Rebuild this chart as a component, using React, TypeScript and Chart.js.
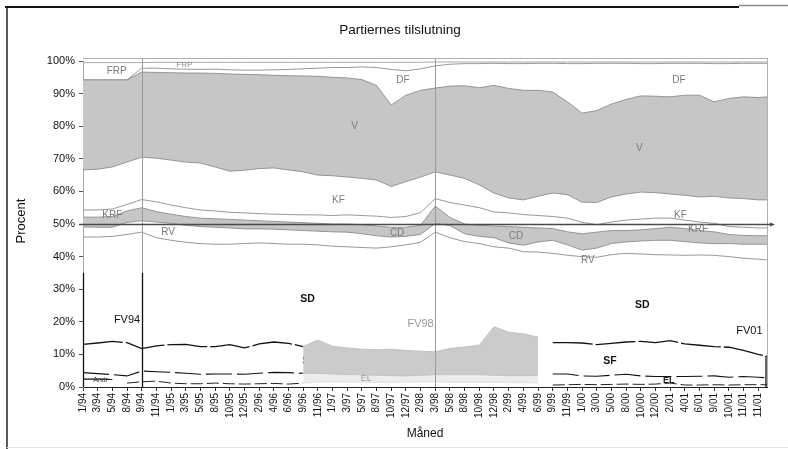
import React, { useEffect, useRef } from "react";
import { Chart, registerables } from "chart.js";

Chart.register(...registerables);

const FONT = "'Liberation Sans', Arial, Helvetica, sans-serif";

// Category (month) labels on the x axis
const monthLabels = [
  "1/94", "3/94", "5/94", "8/94", "9/94", "11/94", "1/95", "3/95", "5/95", "8/95",
  "10/95", "12/95", "2/96", "4/96", "6/96", "9/96", "11/96", "1/97", "3/97", "5/97",
  "8/97", "10/97", "12/97", "2/98", "3/98", "5/98", "8/98", "10/98", "12/98", "2/99",
  "4/99", "6/99", "9/99", "11/99", "1/00", "3/00", "5/00", "8/00", "10/00", "12/00",
  "2/01", "4/01", "6/01", "9/01", "10/01", "11/01", "11/01",
];

// x position of each reading: one per month label, plus the period end (election 11/01)
const pointX = [...monthLabels.map((_, i) => i), 46.6];

// Y-axis tick values (percent)
const yTicks = [0, 10, 20, 30, 40, 50, 60, 70, 80, 90, 100];

// Upper stacked boundaries (cumulative percent)
const rvBottom = [46.0, 46.0, 46.2, 46.8, 47.5, 45.8, 45.0, 44.4, 44.0, 43.8, 43.8, 44.0, 44.2, 44.0, 43.8, 43.8, 43.6, 43.2, 43.0, 42.8, 42.6, 43.0, 43.6, 44.4, 47.5, 45.8, 44.6, 44.0, 43.0, 42.6, 41.5, 41.4, 41.0, 40.4, 40.0, 39.8, 40.6, 41.0, 40.8, 40.6, 40.5, 40.4, 40.5, 40.4, 40.0, 39.5, 39.2, 39.0];
const cdBottom = [49.1, 49.0, 49.0, 50.5, 51.0, 50.6, 50.2, 49.6, 49.2, 49.0, 48.8, 48.5, 48.5, 48.4, 48.2, 48.0, 47.8, 47.6, 47.5, 47.0, 46.4, 46.0, 46.2, 46.8, 50.2, 49.5, 47.0, 46.2, 45.8, 44.2, 43.5, 44.5, 45.0, 43.6, 42.0, 42.6, 44.0, 44.5, 44.8, 45.0, 45.0, 44.6, 44.2, 44.0, 44.0, 43.8, 43.8, 43.8];
const cdTop = [52.1, 52.1, 52.3, 54.0, 55.0, 53.8, 53.0, 52.3, 51.8, 51.6, 51.4, 51.2, 51.0, 50.8, 50.6, 50.4, 50.2, 50.0, 50.0, 49.8, 49.4, 49.0, 49.0, 49.6, 55.5, 52.0, 50.0, 49.6, 49.4, 49.2, 49.0, 48.8, 48.6, 47.6, 47.0, 47.5, 48.0, 48.0, 48.2, 48.6, 49.0, 48.6, 48.0, 47.6, 46.8, 46.5, 46.4, 46.4];
const krfTop = [54.3, 54.3, 54.6, 56.0, 57.5, 56.8, 55.8, 55.0, 54.3, 54.0, 53.6, 53.4, 53.2, 53.0, 52.9, 52.8, 52.8, 52.6, 52.8, 52.6, 52.4, 52.0, 52.3, 53.5, 57.8, 56.6, 55.8, 55.0, 53.7, 53.4, 52.9, 52.6, 52.3, 51.8, 50.5, 49.8, 50.6, 51.2, 51.5, 51.8, 51.8, 51.2, 50.6, 50.2, 49.2, 49.0, 48.8, 48.8];
const vBottom = [66.6, 66.8, 67.5, 69.0, 70.5, 70.2, 69.6, 69.0, 68.7, 67.5, 66.2, 66.5, 67.0, 67.2, 66.6, 66.0, 65.0, 64.8, 64.4, 64.0, 63.5, 61.5, 63.0, 64.4, 66.0, 65.0, 64.0, 62.0, 59.5, 58.0, 57.4, 58.5, 59.5, 59.0, 56.7, 56.6, 58.3, 59.2, 59.8, 59.6, 59.2, 58.8, 58.3, 58.5, 58.0, 57.8, 57.4, 57.4];
const vTop = [94.2, 94.2, 94.2, 94.2, 96.6, 96.5, 96.4, 96.3, 96.3, 96.2, 96.0, 95.9, 95.8, 95.6, 95.5, 95.4, 95.3, 95.0, 94.8, 94.3, 92.5, 86.5, 89.5, 91.0, 91.7, 92.3, 92.4, 91.8, 92.5, 91.6, 91.0, 91.0, 90.5, 87.5, 84.0, 84.8, 86.8, 88.2, 89.3, 89.2, 89.0, 89.5, 89.5, 87.5, 88.5, 89.0, 88.8, 89.0];
const dfTop = [94.2, 94.2, 94.2, 94.2, 97.8, 97.8, 97.6, 97.5, 97.4, 97.5, 97.3, 97.2, 97.2, 97.3, 97.4, 97.6, 97.8, 98.0, 98.0, 98.2, 98.0, 97.4, 97.0, 97.6, 98.5, 99.0, 99.2, 99.2, 99.3, 99.2, 99.2, 99.3, 99.3, 99.2, 99.2, 99.3, 99.3, 99.3, 99.2, 99.2, 99.3, 99.3, 99.3, 99.2, 99.2, 99.3, 99.3, 99.3];
const frpTop = [99.5, 99.5, 99.5, 99.5, 99.5, 99.6, 99.6, 99.6, 99.6, 99.6, 99.6, 99.6, 99.6, 99.6, 99.6, 99.6, 99.6, 99.6, 99.6, 99.6, 99.6, 99.6, 99.6, 99.6, 99.7, 99.7, 99.7, 99.7, 99.7, 99.7, 99.7, 99.7, 99.7, 99.7, 99.7, 99.7, 99.7, 99.7, 99.7, 99.7, 99.7, 99.7, 99.7, 99.7, 99.7, 99.7, 99.7, 99.7];

// Lower part: left-wing parties
const sdLine = [13.1, 13.5, 14.0, 13.6, 11.8, 12.6, 13.0, 13.1, 12.4, 12.4, 13.0, 12.0, 13.2, 13.8, 13.4, 12.4, null, null, null, null, null, null, null, null, null, null, null, null, null, null, null, null, 13.6, 13.6, 13.5, 13.0, 13.4, 13.8, 14.0, 13.6, 14.2, 13.2, 12.8, 12.4, 12.2, 11.2, 10.0, 9.4];
const sfLine = [4.4, 4.1, 3.8, 3.4, 4.9, 4.7, 4.5, 4.2, 3.9, 4.0, 4.0, 3.9, 4.2, 4.5, 4.4, 4.2, null, null, null, null, null, null, null, null, null, null, null, null, null, null, null, null, 4.0, 4.0, 3.4, 3.3, 3.6, 3.9, 3.4, 3.2, 3.2, 3.2, 3.3, 3.4, 3.0, 3.2, 3.0, 2.8];
const elLine = [null, null, null, 1.2, 1.6, 1.8, 1.2, 1.0, 1.0, 1.2, 1.0, 0.9, 1.0, 1.1, 0.9, 1.2, null, null, null, null, null, null, null, null, null, null, null, null, null, null, null, null, 0.6, 0.7, 0.8, 0.7, 0.8, 0.9, 0.8, 0.9, 1.2, 0.6, 0.6, 0.7, 0.6, 0.7, 0.7, 0.7];
const andrLine = [2.4, 2.4, 2.3, null, null, null, null, null, null, null, null, null, null, null, null, null, null, null, null, null, null, null, null, null, null, null, null, null, null, null, null, null, null, null, null, null, null, null, null, null, null, null, null, null, null, null, null, null];
const shadeTop = [null, null, null, null, null, null, null, null, null, null, null, null, null, null, null, 12.4, 14.4, 12.5, 12.0, 11.6, 11.4, 11.6, 11.2, 11.0, 10.8, 11.8, 12.3, 12.8, 18.5, 16.8, 16.3, 15.3, null, null, null, null, null, null, null, null, null, null, null, null, null, null, null, null];
const shadeBottom = [null, null, null, null, null, null, null, null, null, null, null, null, null, null, null, 4.2, 4.2, 4.0, 3.8, 3.8, 3.6, 3.5, 3.4, 3.6, 3.8, 3.8, 3.8, 3.8, 3.6, 3.5, 3.5, 3.5, null, null, null, null, null, null, null, null, null, null, null, null, null, null, null, null];
const elShade = [null, null, null, null, null, null, null, null, null, null, null, null, null, null, null, 1.2, 1.5, 1.5, 1.5, 1.4, 1.4, 1.4, 1.5, 1.5, 1.5, 1.4, 1.4, 1.4, 1.4, 1.4, 1.3, 1.3, null, null, null, null, null, null, null, null, null, null, null, null, null, null, null, null];

// Election months (index into monthLabels)
const electionIdx = [4, 24];

// In-chart labels (data coordinates: x = month index, y = percent)
const chartLabels = [
  { text: "FRP", x: 2.3, y: 96.9, kind: "party" },
  { text: "FRP", x: 6.9, y: 98.8, kind: "small" },
  { text: "DF", x: 21.8, y: 94.2, kind: "party" },
  { text: "DF", x: 40.6, y: 94.2, kind: "party" },
  { text: "V", x: 18.5, y: 80.1, kind: "party" },
  { text: "V", x: 37.9, y: 73.3, kind: "party" },
  { text: "KF", x: 17.4, y: 57.4, kind: "party" },
  { text: "KF", x: 40.7, y: 52.8, kind: "party" },
  { text: "KRF", x: 2.0, y: 52.8, kind: "party" },
  { text: "KRF", x: 41.9, y: 48.5, kind: "party" },
  { text: "RV", x: 5.8, y: 47.5, kind: "party" },
  { text: "RV", x: 34.4, y: 39.0, kind: "party" },
  { text: "CD", x: 21.4, y: 47.2, kind: "party" },
  { text: "CD", x: 29.5, y: 46.3, kind: "party" },
  { text: "SD", x: 15.3, y: 27.0, kind: "bold" },
  { text: "SD", x: 38.1, y: 25.2, kind: "bold" },
  { text: "SF", x: 35.9, y: 8.0, kind: "bold" },
  { text: "FV94", x: 3.0, y: 20.6, kind: "fv" },
  { text: "FV98", x: 23.0, y: 19.3, kind: "fvgray" },
  { text: "FV01", x: 45.4, y: 17.2, kind: "fv" },
  { text: "EL", x: 19.3, y: 2.5, kind: "elgray" },
  { text: "EL", x: 39.9, y: 2.1, kind: "el" },
  { text: "Andr", x: 1.2, y: 2.1, kind: "tiny" },
];
const underLabels = [{ text: "SF", x: 15.4, y: 8.0, kind: "bold" }];

const labelStyle: Record<string, { font: string; color: string }> = {
  party: { font: `10px ${FONT}`, color: "#7a7a7a" },
  small: { font: `8px ${FONT}`, color: "#8a8a8a" },
  bold: { font: `bold 10.5px ${FONT}`, color: "#111" },
  fv: { font: `11px ${FONT}`, color: "#111" },
  fvgray: { font: `11px ${FONT}`, color: "#9a9a9a" },
  elgray: { font: `9px ${FONT}`, color: "#9a9a9a" },
  el: { font: `bold 9px ${FONT}`, color: "#222" },
  tiny: { font: `7px ${FONT}`, color: "#333" },
};

const pts = (arr: (number | null)[]) => arr.map((v, i) => ({ x: pointX[i], y: v }));

const GRAY_FILL = "#c6c6c6";
const LINE_GRAY = "#8c8c8c";

function drawLabels(chart: any, list: any[]) {
  const { ctx } = chart;
  const xs = chart.scales.x;
  const ys = chart.scales.y;
  ctx.save();
  ctx.textAlign = "center";
  ctx.textBaseline = "middle";
  for (const l of list) {
    const st = labelStyle[l.kind];
    ctx.font = st.font;
    ctx.fillStyle = st.color;
    ctx.fillText(l.text, xs.getPixelForValue(l.x), ys.getPixelForValue(l.y));
  }
  ctx.restore();
}

const decor = {
  id: "decor",
  beforeDraw(chart: any) {
    const { ctx, width, height } = chart;
    ctx.save();
    ctx.fillStyle = "#fff";
    ctx.fillRect(0, 0, width, height);
    // scanned page frame
    ctx.strokeStyle = "#111";
    ctx.lineWidth = 2;
    ctx.beginPath();
    ctx.moveTo(5, 7);
    ctx.lineTo(739, 7);
    ctx.stroke();
    ctx.strokeStyle = "#8a8a8a";
    ctx.lineWidth = 1.5;
    ctx.beginPath();
    ctx.moveTo(739, 5.5);
    ctx.lineTo(788, 5.5);
    ctx.stroke();
    ctx.strokeStyle = "#222";
    ctx.lineWidth = 1.5;
    ctx.beginPath();
    ctx.moveTo(7, 7);
    ctx.lineTo(7, height);
    ctx.stroke();
    ctx.strokeStyle = "#e2e2e2";
    ctx.lineWidth = 1;
    ctx.beginPath();
    ctx.moveTo(7, 447.5);
    ctx.lineTo(width, 447.5);
    ctx.stroke();
    // texts
    ctx.fillStyle = "#111";
    ctx.textAlign = "center";
    ctx.textBaseline = "middle";
    ctx.font = `13.5px ${FONT}`;
    ctx.fillText("Partiernes tilslutning", 400, 30);
    ctx.font = `12px ${FONT}`;
    ctx.fillText("Måned", 425, 434);
    ctx.save();
    ctx.translate(21, 221);
    ctx.rotate(-Math.PI / 2);
    ctx.font = `13px ${FONT}`;
    ctx.fillText("Procent", 0, 0);
    ctx.restore();
    ctx.restore();
  },
  beforeDatasetsDraw(chart: any) {
    drawLabels(chart, underLabels);
  },
  afterDatasetsDraw(chart: any) {
    const { ctx, chartArea: a } = chart;
    const xs = chart.scales.x;
    const ys = chart.scales.y;
    ctx.save();
    // plot frame top / right
    ctx.strokeStyle = "#b0b0b0";
    ctx.lineWidth = 1;
    ctx.beginPath();
    ctx.moveTo(a.left, a.top - 2.5);
    ctx.lineTo(a.right, a.top - 2.5);
    ctx.moveTo(a.right + 0.5, a.top - 3);
    ctx.lineTo(a.right + 0.5, a.bottom);
    ctx.stroke();
    // election lines
    electionIdx.forEach((idx, k) => {
      const px = Math.round(xs.getPixelForValue(idx)) + 0.5;
      ctx.strokeStyle = "#9a9a9a";
      ctx.lineWidth = 1;
      ctx.beginPath();
      ctx.moveTo(px, a.top - 3);
      ctx.lineTo(px, a.bottom);
      ctx.stroke();
      if (k === 0) {
        ctx.strokeStyle = "#111";
        ctx.lineWidth = 1.3;
        ctx.beginPath();
        ctx.moveTo(px, ys.getPixelForValue(35));
        ctx.lineTo(px, a.bottom);
        ctx.stroke();
      }
    });
    // end-of-period black mark at right edge
    ctx.strokeStyle = "#111";
    ctx.lineWidth = 1.3;
    ctx.beginPath();
    ctx.moveTo(a.right - 1, ys.getPixelForValue(9.4));
    ctx.lineTo(a.right - 1, a.bottom);
    ctx.stroke();
    // dark lower y-axis
    ctx.beginPath();
    ctx.moveTo(a.left + 0.5, ys.getPixelForValue(35));
    ctx.lineTo(a.left + 0.5, a.bottom);
    ctx.stroke();
    // 50% line
    const y50 = Math.round(ys.getPixelForValue(50)) + 0.5;
    ctx.strokeStyle = "#4a4a4a";
    ctx.lineWidth = 1.5;
    ctx.beginPath();
    ctx.moveTo(a.left - 4, y50);
    ctx.lineTo(a.right + 5, y50);
    ctx.stroke();
    ctx.fillStyle = "#4a4a4a";
    ctx.beginPath();
    ctx.moveTo(a.right + 8, y50);
    ctx.lineTo(a.right + 3, y50 - 2);
    ctx.lineTo(a.right + 3, y50 + 2);
    ctx.closePath();
    ctx.fill();
    ctx.restore();
    drawLabels(chart, chartLabels);
  },
};

export default function App() {
  const ref = useRef<HTMLCanvasElement>(null);
  useEffect(() => {
    const line = (label: string, data: (number | null)[], extra: any = {}) => ({
      label,
      data: pts(data),
      borderColor: LINE_GRAY,
      borderWidth: 0.9,
      pointRadius: 0,
      tension: 0,
      fill: false,
      spanGaps: false,
      ...extra,
    });
    const chart = new Chart(ref.current as HTMLCanvasElement, {
      type: "line",
      data: {
        datasets: [
          line("RV", rvBottom),
          line("CD bund", cdBottom),
          line("CD", cdTop, { fill: 1, backgroundColor: GRAY_FILL }),
          line("KRF", krfTop),
          line("KF", vBottom),
          line("V", vTop, { fill: 4, backgroundColor: GRAY_FILL }),
          line("DF", dfTop),
          line("FRP", frpTop, { borderColor: "#a0a0a0" }),
          line("SF skygge", shadeBottom, { borderColor: "#bdbdbd" }),
          line("SD skygge", shadeTop, { fill: 8, backgroundColor: "#cbcbcb", borderColor: "#bdbdbd" }),
          line("EL skygge", elShade, { fill: 8, backgroundColor: "#ececec", borderColor: "#e0e0e0" }),
          line("SD", sdLine, { borderColor: "#111", borderWidth: 1.3, borderDash: [40, 3] }),
          line("SF", sfLine, { borderColor: "#111", borderWidth: 1.1, borderDash: [26, 5] }),
          line("EL", elLine, { borderColor: "#222", borderWidth: 1, borderDash: [12, 4] }),
          line("Andr", andrLine, { borderColor: "#111", borderWidth: 1.2 }),
        ],
      },
      options: {
        responsive: false,
        animation: false,
        devicePixelRatio: 1,
        layout: { padding: { top: 61, right: 21, left: 0, bottom: 0 } },
        plugins: {
          legend: { display: false },
          tooltip: { enabled: false },
          title: { display: false },
        },
        scales: {
          x: {
            type: "linear",
            min: 0,
            max: 46.6,
            afterBuildTicks: (s: any) => {
              s.ticks = monthLabels.map((_, i) => ({ value: i }));
            },
            afterFit: (s: any) => {
              s.height = 62;
            },
            ticks: {
              autoSkip: false,
              maxRotation: 90,
              minRotation: 90,
              padding: 2,
              color: "#111",
              font: { family: FONT, size: 10 },
              callback: (v: any) => monthLabels[v] ?? "",
            },
            grid: { drawOnChartArea: false, drawTicks: true, tickLength: 4, color: "#333" },
            border: { color: "#222", width: 1 },
          },
          y: {
            min: 0,
            max: 100,
            afterBuildTicks: (s: any) => {
              s.ticks = yTicks.map((v) => ({ value: v }));
            },
            afterFit: (s: any) => {
              s.width = 83;
            },
            ticks: {
              padding: 4,
              color: "#111",
              font: { family: FONT, size: 11 },
              callback: (v: any) => `${v}%`,
            },
            grid: { drawOnChartArea: false, drawTicks: true, tickLength: 4, color: "#555" },
            border: { color: "#a8a8a8", width: 1 },
          },
        },
      },
      plugins: [decor],
    } as any);
    return () => chart.destroy();
  }, []);
  return (
    <div style={{ position: "fixed", left: 0, top: 0, width: 788, height: 449, background: "#fff" }}>
      <canvas ref={ref} width={788} height={449} style={{ display: "block", width: 788, height: 449 }} />
    </div>
  );
}
